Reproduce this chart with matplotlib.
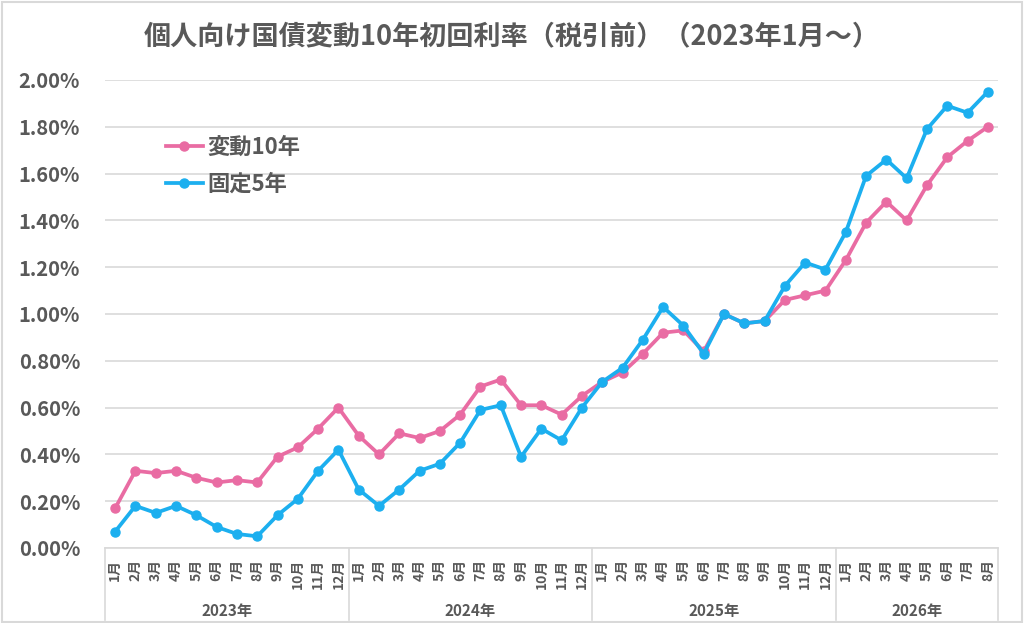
import matplotlib
matplotlib.use("Agg")
import matplotlib.pyplot as plt
import matplotlib.transforms as mtransforms
from matplotlib.patches import Rectangle

plt.rcParams['font.family'] = ['Noto Sans CJK JP', 'DejaVu Sans']

years = ["2023年", "2024年", "2025年", "2026年"]
months_per_year = [12, 12, 12, 8]
month_labels = [f"{m}月" for n in months_per_year for m in range(1, n + 1)]

hendo10 = [0.17, 0.33, 0.32, 0.33, 0.30, 0.28, 0.29, 0.28, 0.39, 0.43, 0.51, 0.60,
           0.48, 0.40, 0.49, 0.47, 0.50, 0.57, 0.69, 0.72, 0.61, 0.61, 0.57, 0.65,
           0.71, 0.75, 0.83, 0.92, 0.93, 0.84, 1.00, 0.96, 0.97, 1.06, 1.08, 1.10,
           1.23, 1.39, 1.48, 1.40, 1.55, 1.67, 1.74, 1.80]
kotei5 = [0.07, 0.18, 0.15, 0.18, 0.14, 0.09, 0.06, 0.05, 0.14, 0.21, 0.33, 0.42,
          0.25, 0.18, 0.25, 0.33, 0.36, 0.45, 0.59, 0.61, 0.39, 0.51, 0.46, 0.60,
          0.71, 0.77, 0.89, 1.03, 0.95, 0.83, 1.00, 0.96, 0.97, 1.12, 1.22, 1.19,
          1.35, 1.59, 1.66, 1.58, 1.79, 1.89, 1.86, 1.95]
series_names = ["変動10年", "固定5年"]
yticks = [0.0, 0.2, 0.4, 0.6, 0.8, 1.0, 1.2, 1.4, 1.6, 1.8, 2.0]

PINK = "#E96CA3"
BLUE = "#1CAFEF"
GRAY = "#595959"
GRID = "#D9D9D9"

W, H = 1024, 623
fig = plt.figure(figsize=(W / 100, H / 100), dpi=100)
L, R, T, B = 105, 998, 80, 548
ax = fig.add_axes([L / W, 1 - B / H, (R - L) / W, (B - T) / H])

x = list(range(len(month_labels)))
ax.plot(x, hendo10, color=PINK, lw=2.7, marker='o', ms=6.5, label=series_names[0], clip_on=False, zorder=3)
ax.plot(x, kotei5, color=BLUE, lw=2.7, marker='o', ms=6.5, label=series_names[1], clip_on=False, zorder=4)

ax.set_xlim(-0.5, len(month_labels) - 0.5)
ax.set_ylim(0, 2.0)
ax.set_yticks(yticks)
ax.set_yticklabels([f"{v:.2f}%" for v in yticks], fontsize=14.5, fontweight='bold', color=GRAY)
ax.yaxis.grid(True, color=GRID, lw=1.2)
ax.set_axisbelow(True)
ax.tick_params(axis='y', length=0, pad=18)
for s in ['top', 'right', 'left']:
    ax.spines[s].set_visible(False)
ax.spines['bottom'].set_color(GRID)
ax.spines['bottom'].set_linewidth(1.2)

ax.set_xticks(x)
ax.set_xticklabels(month_labels, rotation=90, fontsize=10, fontweight='bold', color=GRAY)
ax.tick_params(axis='x', length=0, pad=8)

trans = mtransforms.blended_transform_factory(ax.transData, ax.transAxes)
bottom_ax = -(620 - B) / (B - T)
edges = [-0.5]
for n in months_per_year:
    edges.append(edges[-1] + n)
for e in edges:
    ax.plot([e, e], [0, bottom_ax], transform=trans, color=GRID, lw=1.2, clip_on=False)
year_y = -(611 - B) / (B - T)
for i, yname in enumerate(years):
    cx = (edges[i] + edges[i + 1]) / 2
    ax.text(cx, year_y, yname, transform=trans, ha='center', va='center',
            fontsize=11, fontweight='bold', color=GRAY)

leg = ax.legend(loc='upper left', bbox_to_anchor=((166 - L) / (R - L), (B - 136) / (B - T)),
                frameon=False, fontsize=16, handlelength=1.65, labelspacing=0.6,
                handletextpad=0.2, borderpad=0, borderaxespad=0)
for t in leg.get_texts():
    t.set_color(GRAY)
    t.set_fontweight('bold')

fig.text(0.5, 1 - 37 / H, "個人向け国債変動10年初回利率（税引前）（2023年1月～）",
         ha='center', va='center', fontsize=19.5, fontweight='bold', color=GRAY)

fig.patches.append(Rectangle((0.002, 0.002), 0.996, 0.994, transform=fig.transFigure,
                             fill=False, edgecolor=GRID, lw=1.5))

fig.savefig("out.png", dpi=100, facecolor='white')
